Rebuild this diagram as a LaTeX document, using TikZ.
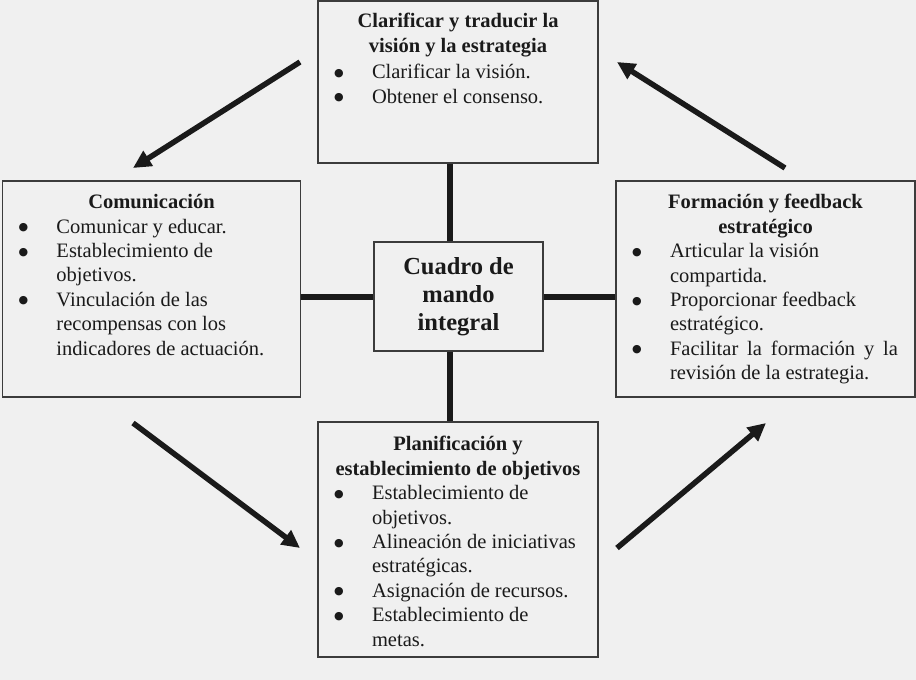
\documentclass[tikz,border=0pt]{standalone}
\usepackage{fontspec}
\setmainfont{Liberation Serif}
\newfontfamily\dotfont{DejaVu Sans}
\usetikzlibrary{arrows.meta}
\definecolor{paper}{HTML}{F0F0F0}
\definecolor{ink}{HTML}{1A1A1A}
\tikzstyle{panel} = [rectangle, 
draw=ink!85, 
line width=1.5pt, 
fill=paper, 
inner sep=0pt, 
text=ink, 
font=\fontsize{20.5}{24.4}\selectfont]
\tikzstyle{core} = [rectangle, 
minimum width=169pt, 
minimum height=109pt, 
text centered, 
align=center, 
draw=ink!85, 
line width=1.5pt, 
fill=paper, 
text=ink, 
font=\fontsize{24.5}{28}\selectfont\bfseries]
\tikzstyle{link} = [line width=6pt, draw=ink]
\tikzstyle{arrow} = [line width=5.5pt, draw=ink, -{Triangle[length=18pt,width=17pt]}]
\newcommand{\heading}[1]{{\centering\bfseries #1\par}}
\newcommand{\dotmark}{\raisebox{2.5pt}{\dotfont\fontsize{11}{11}\selectfont ●}}
\newcommand{\bul}[1]{\par\noindent\hangindent=54pt\hangafter=1\makebox[54pt][l]{\hspace{16pt}\dotmark}#1\par}
\newcommand{\boxtext}[3]{\parbox[c][#2][t]{#1}{\vspace*{12.5pt}#3}}
\begin{document}
\begin{tikzpicture}[x=1pt, y=-1pt]

\fill[paper] (0,0) rectangle (916,680);

\node (clar) [panel] at (458,82) {\boxtext{280pt}{162pt}{%
\heading{Clarificar y traducir la\\visión y la estrategia}
\vspace*{2pt}
\bul{Clarificar la visión.}
\bul{Obtener el consenso.}}};
\node (comu) [panel] at (151.5,289) {\boxtext{298pt}{216pt}{%
\vspace*{1pt}\heading{Comunicación}
\bul{Comunicar y educar.}
\bul{Establecimiento de\\objetivos.}
\bul{Vinculación de las\\recompensas con los\\indicadores de actuación.}}};
\node (form) [panel] at (765.5,289) {\boxtext{299pt}{216pt}{%
\vspace*{1pt}\heading{Formación y feedback\\estratégico}
\bul{Articular la visión\\compartida.}
\bul{Proporcionar feedback\\estratégico.}
\bul{\makebox[228pt][s]{Facilitar la formación y la}\\revisión de la estrategia.}}};
\node (plan) [panel] at (458,539.5) {\boxtext{280pt}{235pt}{%
\vspace*{2pt}\heading{Planificación y\\establecimiento de objetivos}
\bul{Establecimiento de\\objetivos.}
\bul{Alineación de iniciativas\\estratégicas.}
\bul{Asignación de recursos.}
\bul{Establecimiento de\\metas.}}};
\node (cmi) [core] at (458.5,296.5) {Cuadro de\\mando\\integral};

% ties to the centre box
\coordinate (upjoint) at ([xshift=-9pt]cmi.north);
\coordinate (downjoint) at ([xshift=-9pt]cmi.south);
\draw [link] (upjoint) -- (upjoint |- clar.south);
\draw [link] (downjoint) -- (downjoint |- plan.north);
\draw [link] (cmi.west) -- (cmi.west -| comu.east);
\draw [link] (cmi.east) -- (cmi.east -| form.west);

% cycle arrows
\coordinate (fromClar) at (300,62);
\coordinate (toComu) at (133,168);
\coordinate (fromComu) at (133,423);
\coordinate (toPlan) at (300,548);
\coordinate (fromPlan) at (617,548);
\coordinate (toForm) at (766,423);
\coordinate (fromForm) at (785,168);
\coordinate (toClar) at (617,62);
\draw [arrow] (fromClar) -- (toComu);
\draw [arrow] (fromComu) -- (toPlan);
\draw [arrow] (fromPlan) -- (toForm);
\draw [arrow] (fromForm) -- (toClar);

\end{tikzpicture}
\end{document}
